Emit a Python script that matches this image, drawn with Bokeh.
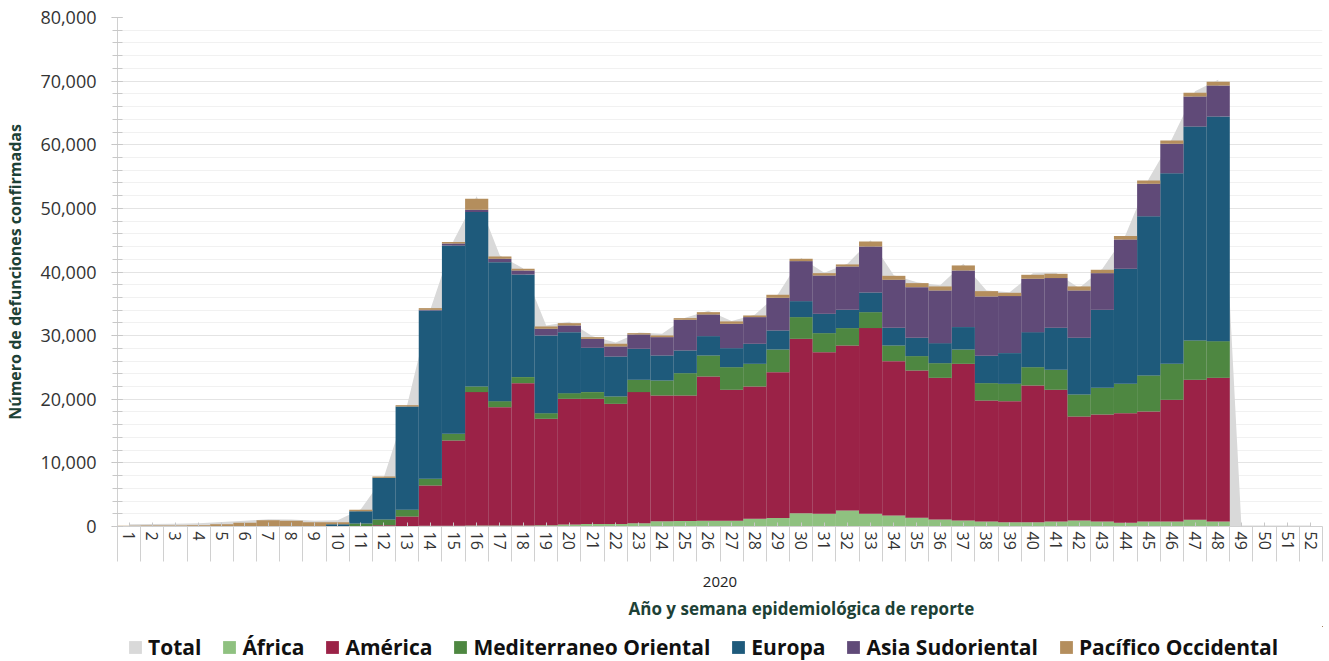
import math
from bokeh.plotting import figure
from bokeh.layouts import column
from bokeh.models import (ColumnDataSource, Range1d, FixedTicker, NumeralTickFormatter,
                          Legend, LegendItem, Title)
from bokeh.embed import file_html
from bokeh.resources import INLINE

year = "2020"
weeks = [1, 2, 3, 4, 5, 6, 7, 8, 9, 10, 11, 12, 13, 14, 15, 16, 17, 18, 19, 20, 21, 22, 23, 24, 25, 26,
         27, 28, 29, 30, 31, 32, 33, 34, 35, 36, 37, 38, 39, 40, 41, 42, 43, 44, 45, 46, 47, 48, 49, 50, 51, 52]

series_names = ["África", "América", "Mediterraneo Oriental", "Europa", "Asia Sudoriental", "Pacífico Occidental"]

africa = [0, 0, 0, 0, 0, 0, 0, 0, 0, 0, 0, 0, 0, 100, 100, 150, 150, 150, 200, 300, 400, 400, 520, 840, 850, 900,
          900, 1200, 1350, 2100, 2000, 2520, 2000, 1730, 1360, 1100, 940, 790, 680, 680, 790, 940, 790, 570, 790, 790,
          1050, 790, 0, 0, 0, 0]
america = [0, 0, 0, 0, 0, 0, 0, 0, 0, 0, 50, 200, 1570, 6350, 13420, 20970, 18610, 22380, 16730, 19770, 19670,
           18880, 20600, 19750, 19740, 22680, 20590, 20810, 22910, 27400, 25400, 25930, 29180, 24260, 23160, 22270,
           24630, 19010, 19020, 21490, 20700, 16350, 16820, 17240, 17290, 19120, 22010, 22580, 0, 0, 0, 0]
mediterraneo = [0, 0, 0, 0, 0, 0, 0, 0, 0, 0, 420, 900, 1050, 1050, 1050, 890, 940, 950, 880, 890, 1050, 1160, 1940,
                2360, 3510, 3300, 3550, 3560, 3560, 3410, 2990, 2730, 2510, 2460, 2260, 2300, 2250, 2730, 2730, 2870,
                3140, 3460, 4190, 4620, 5660, 5660, 6180, 5760, 0, 0, 0, 0]
europa = [0, 0, 0, 0, 0, 0, 0, 0, 0, 350, 1940, 6550, 16240, 26450, 29600, 27410, 21850, 16130, 12220, 9590, 6970,
          6280, 4870, 3930, 3570, 3040, 2990, 3150, 2990, 2510, 3040, 2880, 3090, 2780, 2880, 3150, 3520, 4300, 4820,
          5510, 6600, 8910, 12260, 18080, 25040, 29970, 33640, 35320, 0, 0, 0, 0]
asia = [0, 0, 0, 0, 0, 0, 0, 0, 0, 0, 0, 0, 0, 100, 300, 360, 530, 630, 1050, 1050, 1410, 1580, 2250, 2880, 4820,
        3410, 3830, 4190, 5140, 6290, 6020, 6810, 7230, 7550, 7960, 8280, 8900, 9330, 8960, 8390, 7810, 7440, 5760,
        4610, 5090, 4620, 4720, 4870, 0, 0, 0, 0]
pacifico = [100, 160, 170, 200, 360, 570, 1000, 890, 680, 330, 210, 210, 210, 270, 230, 1730, 360, 270, 360, 360,
            260, 420, 210, 270, 260, 360, 370, 260, 470, 370, 370, 320, 780, 620, 630, 630, 790, 830, 520, 620, 680,
            630, 530, 520, 520, 520, 580, 590, 0, 0, 0, 0]
total = [350, 400, 450, 500, 700, 900, 1150, 1100, 900, 1000, 2700, 7800, 19100, 34100, 44900, 51900, 42600, 40600,
         31600, 32200, 29900, 28900, 30500, 30300, 32800, 33900, 32300, 33300, 36500, 42200, 39900, 41300, 45000,
         39500, 38400, 37900, 41300, 37100, 36800, 39800, 39900, 37500, 40500, 45800, 54600, 60900, 68400, 70200,
         150, 150, 150, 150]

y_ticks = [0, 10000, 20000, 30000, 40000, 50000, 60000, 70000, 80000]

colors = ["#8fc180", "#9b2247", "#4e8741", "#1e5a7b", "#604a78", "#b48e5d"]
total_color = "#d9d9d9"

FONT = "Open Sans"
GREEN_DARK = "#1d4136"

keys = ["africa", "america", "mediterraneo", "europa", "asia", "pacifico"]
source = ColumnDataSource(dict(week=weeks, total=total, africa=africa, america=america,
                               mediterraneo=mediterraneo, europa=europa, asia=asia, pacifico=pacifico))

p = figure(frame_width=1205, frame_height=509, output_backend="svg", toolbar_location=None,
           x_range=Range1d(weeks[0] - 0.5, weeks[-1] + 0.5), y_range=Range1d(y_ticks[0], y_ticks[-1]),
           min_border_left=117, min_border_right=7, min_border_top=17, min_border_bottom=100,
           outline_line_color=None, background_fill_color="white", border_fill_color="white")

area = p.varea(x="week", y1=0, y2="total", source=source, fill_color=total_color)
bars = p.vbar_stack(keys, x="week", width=1.0, source=source, color=colors, line_width=0)

# Y axis
p.yaxis.ticker = FixedTicker(ticks=y_ticks, minor_ticks=list(range(y_ticks[0], y_ticks[-1] + 1, 2000)))
p.yaxis.formatter = NumeralTickFormatter(format="0,0")
p.yaxis.axis_label = "Número de defunciones confirmadas"
p.yaxis.axis_label_text_font = FONT
p.yaxis.axis_label_text_font_style = "bold"
p.yaxis.axis_label_text_font_size = "16px"
p.yaxis.axis_label_text_color = GREEN_DARK
p.yaxis.axis_label_standoff = 11
p.yaxis.major_label_text_font = FONT
p.yaxis.major_label_text_font_size = "18px"
p.yaxis.major_label_text_color = "#333333"
p.yaxis.major_label_standoff = 15
p.yaxis.axis_line_color = "#d0d0d0"
p.yaxis.major_tick_line_color = "#bdbdbd"
p.yaxis.minor_tick_line_color = "#c8c8c8"
p.yaxis.major_tick_in = 5
p.yaxis.major_tick_out = 6
p.yaxis.minor_tick_in = 5
p.yaxis.minor_tick_out = 5

# X axis
p.xaxis.ticker = FixedTicker(ticks=weeks, minor_ticks=[w - 0.5 for w in weeks] + [weeks[-1] + 0.5])
p.xaxis.major_label_orientation = -math.pi / 2
p.xaxis.major_label_text_font = FONT
p.xaxis.major_label_text_font_size = "16px"
p.xaxis.major_label_text_color = "#333333"
p.xaxis.major_label_standoff = -30
p.xaxis.major_tick_in = 4
p.xaxis.major_tick_out = 0
p.xaxis.minor_tick_in = 0
p.xaxis.minor_tick_out = 35
p.xaxis.axis_line_color = "#d0d0d0"
p.xaxis.major_tick_line_color = "#c8c8c8"
p.xaxis.minor_tick_line_color = "#d0d0d0"
p.xaxis.axis_label = year
p.xaxis.axis_label_text_font = FONT
p.xaxis.axis_label_text_font_style = "normal"
p.xaxis.axis_label_text_font_size = "15px"
p.xaxis.axis_label_text_color = "#222222"
p.xaxis.axis_label_standoff = 24

p.xgrid.grid_line_color = None
p.ygrid.grid_line_color = "#e4e4e4"
p.ygrid.minor_grid_line_color = "#f1f1f1"

t = Title(text="Año y semana epidemiológica de reporte", align="left", offset=511,
          text_font=FONT, text_font_size="17px", text_font_style="bold", text_color=GREEN_DARK)
p.add_layout(t, "below")

# Legend strip: a small figure whose view range lies outside the data, so only its legend shows
lg = figure(width=1329, height=35, output_backend="svg", toolbar_location=None,
            x_range=Range1d(-3, -2), y_range=Range1d(-3, -2), x_axis_type=None, y_axis_type=None,
            min_border=0, outline_line_color=None, background_fill_color="white",
            border_fill_color="white")
lg.xgrid.visible = False
lg.ygrid.visible = False
lg_total = lg.varea(x="week", y1=0, y2="total", source=source, fill_color=total_color)
items = [LegendItem(label="Total", renderers=[lg_total])]
for name, key, c in zip(series_names, keys, colors):
    r = lg.vbar(x="week", top=key, width=1, source=source, fill_color=c, line_color=None)
    items.append(LegendItem(label=name, renderers=[r]))

legend = Legend(items=items, orientation="horizontal", location=(10, 0),
                label_text_font=FONT, label_text_font_size="21px", label_text_font_style="bold",
                label_text_color="#111111", glyph_width=16, glyph_height=16, label_standoff=5,
                spacing=20, padding=0, margin=0, border_line_color=None, background_fill_alpha=0)
lg.add_layout(legend)

layout = column(p, lg, spacing=0)
open("out.html", "w").write(file_html(layout, INLINE))
